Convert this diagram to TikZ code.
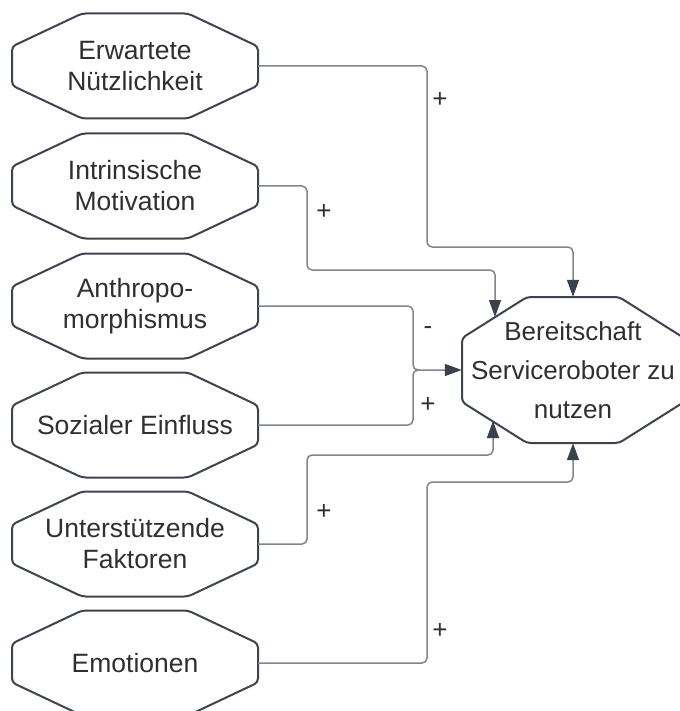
\documentclass[tikz,border=0pt]{standalone}
\usepackage{fontspec}
\setmainfont{Liberation Sans}
\usetikzlibrary{arrows.meta,calc}
\definecolor{edgec}{HTML}{3D444F}
\definecolor{linec}{HTML}{80868E}
\definecolor{tipc}{HTML}{3A414C}
\definecolor{txtc}{HTML}{2F2F2F}
\tikzset{
  lbox/.style={minimum width=246pt,minimum height=105pt,inner sep=0pt,align=center,text=txtc,font=\fontsize{26.5}{31}\selectfont},
  rbox/.style={minimum width=222pt,minimum height=146pt,inner sep=0pt,align=center,text=txtc,font=\fontsize{26}{39}\selectfont},
  octo/.style={draw=edgec,line width=2pt,rounded corners=4pt},
  conn/.style={draw=linec,line width=1.5pt,rounded corners=5pt,-{Triangle[length=17pt,width=12pt,color=tipc]}},
  connp/.style={draw=linec,line width=1.5pt,rounded corners=5pt},
  lab/.style={text=txtc,font=\fontsize{26}{30}\selectfont,inner sep=0pt}
}
\newcommand\drawoct[5]{%
  \draw[octo,shift={(#1.center)}] ({-#2+#4},{-#3}) -- ({#2-#4},{-#3}) -- ({#2},{-#3+#5}) -- ({#2},{#3-#5}) -- ({#2-#4},{#3}) -- ({-#2+#4},{#3}) -- ({-#2},{#3-#5}) -- ({-#2},{-#3+#5}) -- cycle;}
\begin{document}
\begin{tikzpicture}[x=1pt,y=-1pt]
\useasboundingbox (0,0) rectangle (679,711);
\node[lbox] (e1) at (135,66) {Erwartete\\Nützlichkeit};
\node[lbox] (e2) at (135,186) {Intrinsische\\Motivation};
\node[lbox] (e3) at (135,306) {Anthropo-\\morphismus};
\node[lbox] (e4) at (135,425) {Sozialer Einfluss};
\node[lbox] (e5) at (135,544) {Unterstützende\\Faktoren};
\node[lbox] (e6) at (135,663) {Emotionen};
\node[rbox] (r) at (573,370) {Bereitschaft\\Serviceroboter zu\\nutzen};
\foreach \n in {e1,e2,e3,e4,e5,e6}{\drawoct{\n}{123}{52.5}{70}{33}}
\drawoct{r}{111}{73}{65}{41}
\coordinate (t2) at (495,317);
\coordinate (t5) at (493,421);
\draw[conn] (e1.east) -| (427,247) -| (r.north);
\draw[conn] (e2.east) -| (307,270) -| (t2);
\draw[conn] (e3.east) -| (413,370) -- (r.west);
\draw[connp] (e4.east) -| (413,370) -- (420,370);
\draw[conn] (e5.east) -| (307,455) -| (t5);
\draw[conn] (e6.east) -| (427,482) -| (r.south);
\node[lab] (p1) at (440,100) {+};
\node[lab] (p2) at (324,212) {+};
\node[lab] (m3) at (428,331) {-};
\node[lab] (p4) at (428,405) {+};
\node[lab] (p5) at (324,512) {+};
\node[lab] (p6) at (440,631) {+};
\end{tikzpicture}
\end{document}
